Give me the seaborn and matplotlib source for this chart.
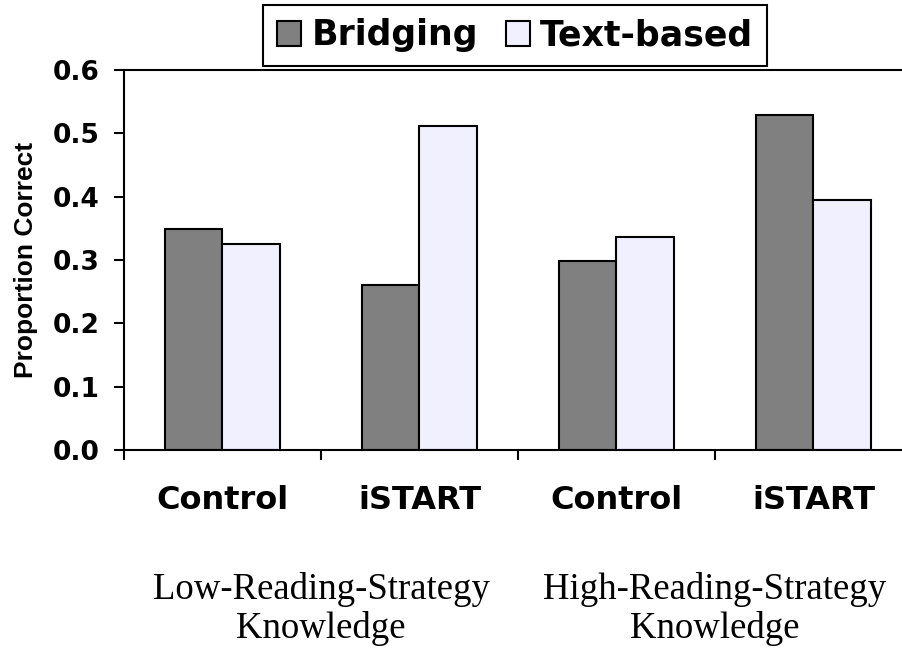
import numpy as np
import pandas as pd
import seaborn as sns
import matplotlib.pyplot as plt
from matplotlib.ticker import FormatStrFormatter

# values
conditions = ["Control", "iSTART", "Control", "iSTART"]
groups = ["Low-Reading-Strategy\nKnowledge", "High-Reading-Strategy\nKnowledge"]
series = ["Bridging", "Text-based"]
bridging = [0.349, 0.261, 0.298, 0.529]
text_based = [0.326, 0.511, 0.336, 0.394]
colors = ["#808080", "#F0F0FF"]

# condition names repeat, so use unique keys for the x categories
keys = [f"{c}_{i}" for i, c in enumerate(conditions)]
df = pd.DataFrame({
    "key": keys * 2,
    "Type": [series[0]] * len(keys) + [series[1]] * len(keys),
    "value": bridging + text_based,
})

sns.set_style("ticks")
plt.rcParams["font.family"] = ["DejaVu Sans"]
for k in ["text.color", "axes.labelcolor", "xtick.color", "ytick.color", "axes.edgecolor"]:
    plt.rcParams[k] = "black"

fig = plt.figure(figsize=(9.03, 6.48), dpi=100)
ax = fig.add_axes([124 / 903, 198 / 648, 788 / 903, 380 / 648])

sns.barplot(
    data=df, x="key", y="value", hue="Type",
    palette=colors, saturation=1, width=0.58,
    edgecolor="black", linewidth=1.5, ax=ax,
)

ax.set_xlim(-0.5, 3.5)
ax.set_ylim(0, 0.6)
ax.set_yticks(np.arange(0, 0.61, 0.1))
ax.yaxis.set_major_formatter(FormatStrFormatter("%.1f"))

# category names under the bars, tick marks at the boundaries
ax.set_xticks(range(len(conditions)))
ax.set_xticklabels(conditions, fontsize=23, fontweight="bold")
ax.tick_params(axis="x", which="major", length=0, pad=25)
ax.set_xticks(np.arange(-0.5, len(conditions), 1.0), minor=True)
ax.tick_params(axis="x", which="minor", length=7.2, width=1.5, direction="out")
ax.tick_params(axis="y", length=7.2, width=1.5, labelsize=19, pad=10.5, direction="out")
for lbl in ax.get_yticklabels():
    lbl.set_fontweight("bold")

for sp in ax.spines.values():
    sp.set_visible(True)
    sp.set_linewidth(1.5)
    sp.set_color("black")

ax.set_xlabel("")
ax.set_ylabel("Proportion Correct", fontsize=19, fontweight="bold",
              family=["Liberation Sans", "DejaVu Sans"])
ax.yaxis.set_label_coords(-0.109, 0.5)

# group labels below the category names
for x, g in zip([0.5, 2.5], groups):
    ax.text(x, -0.321, g, transform=ax.get_xaxis_transform(),
            ha="center", va="top", fontsize=26.5, linespacing=1.14,
            family=["Liberation Serif", "DejaVu Serif"])

handles, labels = ax.get_legend_handles_labels()
ax.get_legend().remove()
leg = ax.legend(
    handles, labels, loc="center",
    bbox_to_anchor=(515 / 903, 1 - 35.5 / 648), bbox_transform=fig.transFigure,
    ncol=2, frameon=True, fancybox=False, edgecolor="black", framealpha=1,
    prop={"weight": "bold", "size": 25},
    handlelength=0.7, handleheight=0.7, handletextpad=0.3,
    columnspacing=0.8, borderpad=0.4,
)
leg.get_frame().set_linewidth(1.5)

fig.savefig("out.png", dpi=100)
